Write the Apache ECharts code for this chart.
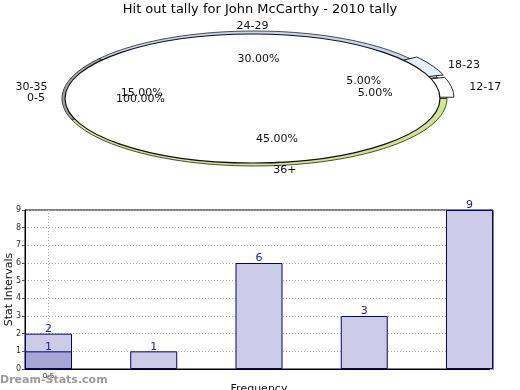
<!DOCTYPE html>
<html><head><meta charset="utf-8">
<script src="https://cdn.jsdelivr.net/npm/echarts@6/dist/echarts.min.js"></script>
<style>html,body{margin:0;padding:0;background:#fff}#c{width:520px;height:390px}</style>
</head><body><div id="c"></div>
<script>
// ---- data ----
const titleText = 'Hit out tally for John McCarthy - 2010 tally';
const pieNames = ['24-29', '18-23', '12-17', '36+', '30-35'];
const piePercents = [30, 5, 5, 45, 15];
const coverName = '0-5';
const coverPercent = 100;
const barPositions = [0, 1, 2, 3, 4];
const barValues = [2, 1, 6, 3, 9];
const overlayPositions = [0];
const overlayValues = [1];
const xTickLabels = ['0-5'];
const yAxisName = 'Stat Intervals';
const xAxisName = 'Frequency';
const watermark = 'Dream-Stats.com';

// ---- pie geometry / styles ----
const PIE = { cx: 252.5, cy: 98.5, rx: 187.5, ry: 64.5, start: 144, innerShift: 6 };
const sliceColors = { '24-29': '#c6d6f3', '18-23': '#e8effb', '12-17': '#ffffff', '36+': '#cfe68b', '30-35': '#a0a0a0' };
const exploded = { '18-23': true, '12-17': true };
const FONT = '"DejaVu Sans", sans-serif';

function pt(cx, cy, rx, ry, deg) { const r = deg * Math.PI / 180; return [cx + rx * Math.cos(r), cy - ry * Math.sin(r)]; }
function sector(cx, cy, rx, ry, a0, a1) {
  const pts = [[cx, cy]];
  const n = Math.max(4, Math.ceil(Math.abs(a0 - a1) / 2));
  for (let i = 0; i <= n; i++) pts.push(pt(cx, cy, rx, ry, a0 + (a1 - a0) * i / n));
  return pts;
}
const slices = [];
let acc = PIE.start;
pieNames.forEach((n, i) => {
  const span = piePercents[i] / 100 * 360;
  slices.push({ name: n, pct: piePercents[i], a0: acc, a1: acc - span, mid: acc - span / 2 });
  acc -= span;
});
slices.push({ name: coverName, pct: coverPercent, cover: true, a0: 0, a1: -coverPercent / 100 * 360, mid: -coverPercent / 100 * 180 });

function renderPie(params) {
  const s = slices[params.dataIndex];
  const { cx, cy, rx, ry } = PIE;
  const m = s.mid * Math.PI / 180, c = Math.cos(m), sn = Math.sin(m);
  const ch = [];
  const isEx = !!exploded[s.name];
  if (s.cover) {
    ch.push({ type: 'ellipse', shape: { cx, cy, rx, ry }, style: { fill: '#fff', stroke: '#111', lineWidth: 1.2 }, z2: 5 });
  } else {
    const col = sliceColors[s.name];
    ch.push({ type: 'polygon', shape: { points: sector(cx + 2, cy, rx + 5, ry + 3, s.a0, s.a1) },
      style: { fill: col, stroke: '#222', lineWidth: 0.8 }, z2: 1 });
    if (isEx) {
      ch.push({ type: 'polygon', shape: { points: sector(cx + 14 * c, cy - 8 * sn, rx, ry, s.a0, s.a1) },
        style: { fill: col, stroke: '#222', lineWidth: 1 }, z2: 2 });
    }
  }
  ch.push({ type: 'text', x: cx + PIE.innerShift + 0.63 * rx * c, y: cy + 1 - 0.63 * ry * sn, z2: 10,
    style: { text: s.pct.toFixed(2) + '%', align: 'center', verticalAlign: 'middle', font: '11px ' + FONT, fill: '#111' } });
  const off = isEx ? 12 : 0;
  ch.push({ type: 'text', x: cx + (rx + 20 + off) * c, y: cy - (ry + 8) * sn, z2: 10,
    style: { text: s.name, align: c > 0.3 ? 'left' : (c < -0.3 ? 'right' : 'center'), verticalAlign: 'middle', font: '11px ' + FONT, fill: '#111' } });
  return { type: 'group', children: ch };
}

const chart = echarts.init(document.getElementById('c'), null, { renderer: 'canvas' });
chart.setOption({
  animation: false,
  textStyle: { fontFamily: FONT },
  title: { text: titleText, left: 'center', top: 3, padding: 0, textStyle: { fontSize: 13, fontWeight: 'normal', color: '#000', fontFamily: FONT } },
  graphic: [{ type: 'text', left: 0, top: 375, style: { text: watermark, font: 'bold 11px ' + FONT, fill: '#9a9a9a' } }],
  grid: { left: 25, right: 27, top: 210, bottom: 21, show: true, borderColor: '#000', borderWidth: 1, containLabel: false, outerBoundsMode: 'none' },
  xAxis: {
    type: 'value', min: -0.2233, max: 4.2233,
    axisLine: { show: true, onZero: false, lineStyle: { color: '#000' } },
    axisTick: { show: false, customValues: barPositions.slice(0, xTickLabels.length) },
    splitLine: { show: true, lineStyle: { type: [1, 2], color: '#b0b0b0' } },
    axisLabel: { customValues: barPositions.slice(0, xTickLabels.length), formatter: v => xTickLabels[barPositions.indexOf(v)] || '', fontSize: 7, color: '#333', margin: 4 },
    name: xAxisName, nameLocation: 'middle', nameGap: 15, nameMoveOverlap: false, nameTextStyle: { fontSize: 11, color: '#111' }
  },
  yAxis: [{
    type: 'value', min: 0, max: 9, interval: 1,
    axisLine: { show: true, onZero: false, lineStyle: { color: '#000' } },
    axisTick: { show: true, length: 3, lineStyle: { color: '#555' } },
    axisLabel: { fontSize: 8, color: '#333', margin: 4 },
    splitLine: { show: true, lineStyle: { type: [1, 2], color: '#aaa' } },
    name: yAxisName, nameLocation: 'middle', nameGap: 10, nameMoveOverlap: false, nameTextStyle: { fontSize: 11, color: '#111' }
  }, {
    type: 'value', position: 'right', min: 0, max: 9, interval: 1,
    axisLine: { show: false, onZero: false }, axisLabel: { show: false }, splitLine: { show: false },
    axisTick: { show: true, inside: true, length: 3, lineStyle: { color: '#aaa' } }
  }],
  series: [
    { type: 'custom', coordinateSystem: 'none', renderItem: renderPie, data: slices.map((s, i) => i), silent: true },
    {
      type: 'bar', xAxisIndex: 0, yAxisIndex: 0, barWidth: 47, barGap: '-100%',
      data: barPositions.map((x, i) => [x, barValues[i]]),
      itemStyle: { color: '#ccccE6', borderColor: '#000080', borderWidth: 1 },
      label: { show: true, position: 'top', distance: -1, color: '#22229a', fontSize: 11, formatter: p => p.value[1] }
    },
    {
      type: 'bar', xAxisIndex: 0, yAxisIndex: 0, barWidth: 47, barGap: '-100%',
      data: overlayPositions.map((x, i) => [x, overlayValues[i]]),
      itemStyle: { color: '#a6a6d4', borderColor: '#000080', borderWidth: 1 },
      label: { show: true, position: 'top', distance: -1, color: '#22229a', fontSize: 11, formatter: p => p.value[1] }
    }
  ]
});
</script></body></html>
